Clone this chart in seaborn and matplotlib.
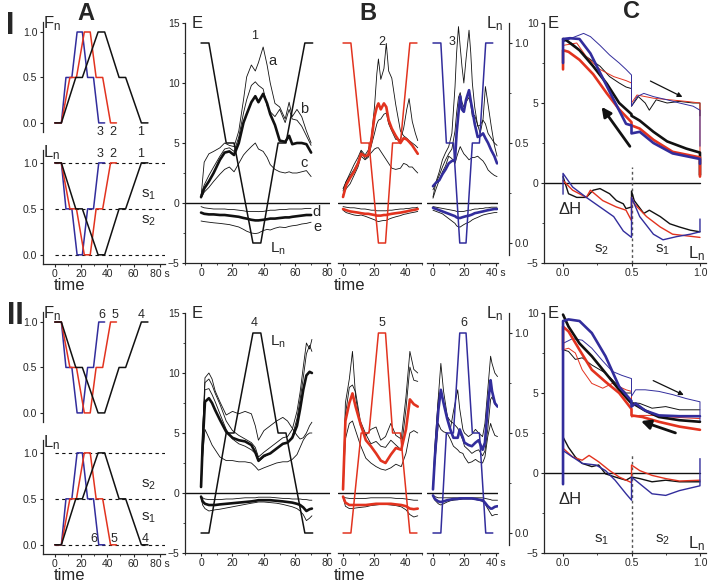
import matplotlib
matplotlib.use("Agg")
import matplotlib.pyplot as plt
from matplotlib.ticker import MultipleLocator, FixedLocator
import seaborn as sns

W, H = 708, 583
RED = "#e2331f"
BLUE = "#322d9c"
BLACK = "#111111"

# ---- stimulus profiles (knot times, s) ----
T_EXP1 = [0, 5, 16, 21, 33, 38, 49, 54, 66, 71]
T_EXP2 = [0, 5, 11.5, 16.5, 22.5, 27, 31.5, 36.5, 42.5, 47]
T_EXP3 = [0, 5, 8.5, 13, 17, 21, 25, 29.5, 33.5, 38]
LN_ROW_I = [1, 1, 0.5, 0.5, 0, 0, 0.5, 0.5, 1, 1]
LN_ROW_II = [0, 0, 0.5, 0.5, 1, 1, 0.5, 0.5, 0, 0]
FN_ROW_I = [0, 0, 0.5, 0.5, 1, 1, 0.5, 0.5, 0, 0]
FN_ROW_II = [1, 1, 0.5, 0.5, 0, 0, 0.5, 0.5, 1, 1]

# ---- E traces, experiment 1 ----
E1_T = [0, 2, 5, 8, 12, 15, 18, 21, 24, 27, 29, 32, 34.5, 36.5, 39.5, 42, 44, 47, 50, 53.5, 56, 58, 61, 64, 67, 70]
E1_A = [0.5, 3.4, 4.1, 4.3, 4.6, 5.0, 4.8, 4.7, 6.0, 8.6, 10.5, 11.5, 11.0, 11.7, 13.0, 11.5, 10.0, 8.3, 8.0, 7.0, 8.4, 7.2, 7.8, 7.2, 6.0, 5.0]
E1_B = [0.7, 1.5, 2.3, 3.0, 3.9, 4.5, 4.6, 4.3, 5.5, 7.5, 8.6, 9.8, 10.1, 9.8, 9.5, 8.1, 7.6, 7.2, 7.8, 6.7, 7.8, 7.0, 6.9, 6.4, 5.6, 4.8]
E1_M = [0.5, 1.2, 1.8, 2.5, 3.6, 4.2, 4.3, 4.0, 5.0, 6.7, 7.4, 8.4, 8.9, 8.4, 9.1, 8.3, 7.4, 6.5, 5.2, 5.1, 5.6, 4.9, 5.0, 5.0, 4.9, 4.2]
E1_C = [0.4, 0.9, 1.3, 1.8, 2.4, 2.8, 3.0, 2.6, 3.3, 4.0, 4.3, 4.7, 5.0, 4.5, 4.3, 3.8, 3.2, 2.8, 2.6, 2.5, 2.6, 2.5, 2.5, 2.6, 2.7, 2.2]
E1_D = [-0.3, -0.4, -0.45, -0.5, -0.5, -0.5, -0.55, -0.55, -0.6, -0.65, -0.7, -0.7, -0.7, -0.72, -0.7, -0.65, -0.6, -0.6, -0.55, -0.55, -0.5, -0.5, -0.5, -0.5, -0.45, -0.45]
E1_DM = [-0.8, -0.9, -0.95, -0.95, -1.0, -1.0, -1.05, -1.1, -1.15, -1.25, -1.3, -1.4, -1.45, -1.45, -1.4, -1.35, -1.3, -1.3, -1.25, -1.2, -1.2, -1.15, -1.1, -1.05, -1.0, -1.0]
E1_E = [-1.5, -1.55, -1.6, -1.65, -1.7, -1.75, -1.8, -1.9, -2.0, -2.2, -2.35, -2.5, -2.55, -2.5, -2.3, -2.2, -2.25, -2.1, -2.0, -2.05, -1.95, -1.9, -1.85, -1.75, -1.7, -1.6]

# ---- experiment 2 ----
E2_T = [0, 2, 4.5, 7, 9.5, 11.5, 14, 16, 18, 20, 21.5, 22.5, 24, 26, 27.5, 29, 31, 33.5, 36.5, 38.5, 40.5, 42, 44, 46, 47.5]
E2_A = [1.0, 1.8, 2.5, 3.2, 3.8, 4.4, 4.0, 4.4, 5.5, 8.0, 10.8, 12.0, 10.3, 11.2, 13.3, 11.0, 10.4, 8.2, 6.0, 5.6, 5.4, 5.2, 5.0, 4.8, 4.6]
E2_B = [0.7, 1.2, 1.6, 2.3, 3.0, 3.9, 3.6, 3.8, 4.8, 5.8, 6.6, 6.9, 7.0, 7.4, 7.5, 6.6, 6.0, 5.3, 5.3, 6.2, 7.8, 8.7, 6.8, 5.8, 5.2]
E2_M = [0.5, 1.5, 2.1, 2.6, 3.3, 4.1, 3.9, 4.0, 5.2, 7.2, 8.0, 8.3, 7.8, 8.3, 8.0, 6.9, 6.2, 5.6, 5.0, 5.4, 5.3, 5.1, 4.8, 4.4, 4.1]
E2_C = [1.2, 1.8, 2.3, 2.8, 3.4, 4.3, 3.7, 3.9, 4.2, 4.5, 4.6, 4.6, 4.3, 3.9, 3.6, 3.3, 2.9, 2.8, 2.9, 3.3, 3.2, 3.0, 3.0, 2.7, 2.5]
E2_D = [-0.3, -0.35, -0.4, -0.4, -0.45, -0.5, -0.5, -0.55, -0.6, -0.6, -0.65, -0.65, -0.65, -0.65, -0.65, -0.6, -0.6, -0.55, -0.5, -0.5, -0.45, -0.45, -0.4, -0.4, -0.35]
E2_DM = [-0.5, -0.6, -0.7, -0.75, -0.8, -0.85, -0.9, -0.9, -0.95, -1.0, -1.05, -1.05, -1.05, -1.0, -1.0, -0.95, -0.9, -0.85, -0.8, -0.75, -0.7, -0.65, -0.6, -0.55, -0.5]
E2_E = [-0.6, -0.8, -0.9, -1.0, -1.05, -1.0, -1.1, -1.2, -1.3, -1.4, -1.5, -1.55, -1.5, -1.45, -1.45, -1.35, -1.25, -1.15, -1.05, -0.95, -0.9, -0.85, -0.8, -0.75, -0.7]

# ---- experiment 3 ----
E3_T = [0, 2, 4, 6, 8, 10, 12, 14, 15, 16.2, 17.3, 18.4, 19.6, 21, 22.9, 24, 25, 26.5, 28.4, 30, 31.8, 33.3, 35, 37, 39, 40.7]
E3_A = [0.5, 1.8, 2.6, 3.6, 4.2, 4.7, 5.8, 9.7, 12.5, 14.7, 13.0, 11.4, 10.0, 12.0, 14.4, 12.5, 10.0, 8.0, 6.4, 6.5, 6.9, 6.6, 5.8, 5.4, 5.0, 4.8]
E3_B = [1.1, 1.7, 2.3, 3.0, 3.6, 4.1, 4.5, 6.0, 7.5, 8.8, 9.2, 8.4, 8.0, 8.4, 8.8, 8.2, 7.2, 7.3, 6.5, 5.8, 7.0, 9.7, 8.2, 6.4, 4.8, 3.9]
E3_M = [1.4, 1.7, 1.9, 2.4, 2.8, 3.3, 3.5, 3.6, 5.8, 7.5, 8.9, 7.8, 7.6, 8.6, 9.4, 8.5, 7.8, 6.6, 5.5, 5.6, 5.8, 5.4, 5.0, 4.4, 3.9, 3.3]
E3_C = [0.4, 1.2, 1.9, 2.6, 3.1, 3.9, 3.7, 3.3, 3.8, 4.3, 4.7, 4.4, 4.1, 3.9, 3.6, 3.7, 3.8, 3.8, 3.9, 3.7, 3.5, 3.2, 2.75, 2.5, 2.3, 2.2]
E3_D = [-0.3, -0.35, -0.4, -0.45, -0.5, -0.55, -0.6, -0.65, -0.7, -0.7, -0.7, -0.7, -0.7, -0.65, -0.6, -0.6, -0.55, -0.5, -0.5, -0.45, -0.45, -0.4, -0.4, -0.35, -0.35, -0.35]
E3_DM = [-0.4, -0.5, -0.6, -0.7, -0.8, -0.9, -1.0, -1.1, -1.2, -1.25, -1.25, -1.2, -1.15, -1.1, -1.05, -1.0, -0.95, -0.85, -0.8, -0.75, -0.7, -0.65, -0.6, -0.55, -0.5, -0.5]
E3_E = [-0.6, -0.7, -0.8, -0.9, -1.1, -1.3, -1.5, -1.7, -1.9, -2.0, -2.0, -1.9, -1.8, -1.7, -1.6, -1.5, -1.4, -1.3, -1.2, -1.1, -1.0, -0.95, -0.9, -0.85, -0.8, -0.8]

# ---- experiment 4 ----
E4_T = [0, 1, 2.5, 5, 7, 9, 12, 16, 20, 24, 28, 32, 34.5, 36.5, 40, 44, 48, 52, 55, 58, 61, 63, 65, 67, 69, 70.5]
E4_A = [0.5, 5.0, 9.2, 9.5, 9.0, 8.3, 7.4, 6.0, 5.2, 4.8, 4.5, 4.2, 3.8, 3.0, 3.4, 3.8, 4.2, 4.6, 4.7, 5.3, 6.8, 8.4, 10.5, 12.5, 12.0, 12.8]
E4_B = [0.5, 4.5, 8.6, 8.7, 8.2, 7.6, 6.6, 5.3, 4.5, 4.1, 3.9, 3.6, 3.3, 2.6, 3.0, 3.3, 3.7, 4.1, 4.2, 4.7, 6.2, 7.8, 9.6, 11.6, 12.3, 11.8]
E4_M = [0.5, 4.0, 7.6, 7.9, 7.5, 6.9, 6.1, 5.1, 4.6, 4.4, 4.3, 4.0, 3.4, 2.7, 3.1, 3.3, 3.7, 4.1, 4.2, 4.6, 5.6, 7.0, 8.6, 9.8, 10.1, 10.0]
E4_C = [0.5, 5.0, 9.6, 10.0, 9.5, 8.5, 7.6, 6.5, 6.8, 6.6, 6.8, 6.6, 5.6, 4.4, 5.2, 5.6, 6.0, 6.3, 6.0, 5.4, 4.8, 4.5, 4.6, 5.0, 5.6, 5.9]
E4_L = [0.5, 3.0, 5.3, 4.6, 4.0, 3.6, 3.0, 2.7, 2.7, 2.6, 2.6, 2.5, 2.2, 1.9, 2.1, 2.3, 2.5, 2.6, 2.6, 2.8, 3.2, 3.8, 4.4, 4.8, 5.0, 5.0]
E4_D = [-0.3, -0.4, -0.5, -0.55, -0.55, -0.55, -0.55, -0.5, -0.5, -0.45, -0.4, -0.4, -0.4, -0.35, -0.35, -0.35, -0.4, -0.45, -0.45, -0.5, -0.5, -0.5, -0.55, -0.55, -0.6, -0.6]
E4_DM = [-0.3, -0.7, -0.9, -1.0, -1.0, -1.0, -0.95, -0.9, -0.85, -0.8, -0.75, -0.7, -0.65, -0.6, -0.6, -0.6, -0.65, -0.7, -0.75, -0.8, -0.9, -1.0, -1.2, -1.5, -1.35, -1.3]
E4_E = [-0.3, -1.0, -1.3, -1.5, -1.45, -1.4, -1.35, -1.25, -1.15, -1.05, -0.95, -0.85, -0.8, -0.75, -0.75, -0.8, -0.85, -0.95, -1.05, -1.15, -1.3, -1.5, -1.8, -2.3, -2.1, -1.9]

# ---- experiment 5 ----
E5_T = [0, 1.5, 4, 6, 8, 11, 14.5, 17.7, 21, 24, 27, 30.4, 33.6, 37, 40, 42.5, 45, 47.5]
E5_A = [0.3, 7.5, 9.5, 11.8, 8.0, 5.6, 4.8, 5.3, 5.5, 4.4, 4.7, 5.8, 4.8, 4.5, 8.0, 11.8, 10.3, 10.0]
E5_B = [0.3, 6.5, 8.8, 9.0, 8.4, 6.0, 4.9, 4.1, 4.3, 3.9, 3.8, 4.4, 4.0, 3.6, 7.0, 10.5, 9.4, 9.3]
E5_M = [0.3, 6.0, 7.5, 8.3, 7.2, 5.8, 4.4, 3.9, 3.3, 2.7, 2.5, 3.2, 3.75, 3.6, 5.3, 7.8, 7.4, 7.2]
E5_C = [0.3, 4.5, 5.8, 6.0, 5.2, 4.0, 2.9, 2.5, 2.2, 2.0, 1.9, 2.1, 2.4, 2.2, 3.3, 5.0, 5.2, 5.0]
E5_D = [-0.3, -0.4, -0.45, -0.45, -0.45, -0.45, -0.45, -0.4, -0.4, -0.4, -0.4, -0.4, -0.45, -0.45, -0.5, -0.55, -0.6, -0.6]
E5_DM = [-0.3, -0.8, -1.0, -1.0, -1.0, -1.0, -1.0, -0.95, -0.9, -0.9, -0.9, -0.9, -0.95, -1.0, -1.1, -1.3, -1.35, -1.3]
E5_E = [-0.3, -1.1, -1.3, -1.3, -1.25, -1.2, -1.15, -1.05, -1.0, -0.95, -0.95, -1.0, -1.05, -1.15, -1.4, -1.8, -2.0, -1.9]

# ---- experiment 6 ----
E6_T = [0, 1.2, 3.4, 5, 6.7, 9, 11, 13, 15.7, 17, 19, 20, 22.5, 24.7, 27, 29, 31.5, 33, 34.8, 36.6, 37.5, 39.3, 41]
E6_A = [0.3, 4.0, 8.0, 10.8, 8.5, 6.5, 5.3, 6.8, 8.6, 7.0, 5.3, 5.0, 4.7, 4.9, 5.3, 5.0, 4.7, 5.8, 8.6, 11.4, 10.8, 10.0, 9.7]
E6_B = [0.3, 3.5, 7.8, 8.6, 7.6, 6.4, 6.0, 5.8, 5.4, 5.0, 4.4, 3.9, 3.6, 3.3, 3.5, 3.6, 3.1, 3.5, 5.3, 7.8, 8.0, 7.4, 7.2]
E6_M = [0.3, 3.0, 6.9, 8.6, 7.5, 6.2, 5.3, 4.6, 4.6, 5.3, 4.6, 4.2, 4.0, 3.9, 4.2, 4.4, 3.6, 4.2, 7.2, 9.4, 8.5, 7.5, 7.2]
E6_C = [0.3, 2.5, 5.8, 5.3, 5.1, 5.0, 4.5, 3.9, 3.6, 3.4, 3.3, 3.0, 2.5, 2.6, 2.8, 2.6, 2.5, 3.0, 4.7, 5.8, 5.4, 4.8, 4.7]
E6_D = [-0.2, -0.3, -0.4, -0.4, -0.4, -0.4, -0.4, -0.4, -0.4, -0.4, -0.4, -0.4, -0.4, -0.4, -0.4, -0.4, -0.4, -0.45, -0.5, -0.55, -0.6, -0.6, -0.6]
E6_DM = [-0.2, -0.5, -0.7, -0.75, -0.7, -0.6, -0.55, -0.5, -0.5, -0.45, -0.45, -0.45, -0.45, -0.45, -0.5, -0.55, -0.6, -0.8, -1.1, -1.3, -1.3, -1.15, -1.1]
E6_E = [-0.2, -0.6, -0.9, -1.0, -0.9, -0.75, -0.65, -0.6, -0.55, -0.55, -0.5, -0.5, -0.5, -0.5, -0.55, -0.6, -0.7, -0.9, -1.3, -1.7, -1.9, -1.8, -1.8]

# ---- panel C, row I: E against L_n ----
CI_BLACK_DN_L = [1.0, 1.0, 0.9, 0.76, 0.66, 0.56, 0.5, 0.5, 0.41, 0.32, 0.22, 0.12, 0.02, 0.0]
CI_BLACK_DN_E = [0.5, 1.9, 2.15, 2.6, 3.2, 3.9, 4.2, 4.3, 5.0, 6.2, 7.3, 8.3, 8.95, 9.0]
CI_RED_DN_L = [1.0, 1.0, 0.8, 0.66, 0.56, 0.5, 0.5, 0.41, 0.32, 0.22, 0.12, 0.04, 0.0, 0.0]
CI_RED_DN_E = [0.4, 1.6, 1.95, 2.7, 3.4, 3.6, 3.8, 4.6, 5.6, 6.8, 7.7, 8.2, 8.3, 7.1]
CI_BLUE_DN_L = [1.0, 1.0, 0.8, 0.66, 0.56, 0.5, 0.5, 0.46, 0.37, 0.27, 0.2, 0.12, 0.05, 0.0, 0.0]
CI_BLUE_DN_E = [1.2, 1.5, 1.85, 2.5, 3.2, 3.1, 3.6, 3.7, 5.2, 6.9, 8.1, 9.0, 9.05, 9.0, 7.5]
CI_BLACK_UP_L = [0.0, 0.07, 0.17, 0.27, 0.34, 0.41, 0.46, 0.5, 0.5, 0.55, 0.6, 0.63, 0.68, 0.76, 0.85, 0.95, 1.0, 1.0]
CI_BLACK_UP_E = [9.0, 8.7, 7.9, 7.3, 6.65, 6.25, 6.0, 5.9, 4.8, 5.4, 5.0, 4.55, 5.2, 5.0, 5.1, 5.0, 5.0, 4.2]
CI_RED_UP_L = [0.0, 0.1, 0.17, 0.27, 0.37, 0.46, 0.5, 0.5, 0.54, 0.66, 0.78, 0.9, 1.0, 1.0]
CI_RED_UP_E = [8.6, 8.75, 7.9, 7.1, 6.65, 6.4, 6.25, 5.0, 5.5, 5.3, 5.2, 5.1, 5.0, 0.4]
CI_BLUE_UP_L = [0.0, 0.06, 0.15, 0.2, 0.27, 0.34, 0.41, 0.46, 0.5, 0.5, 0.54, 0.59, 0.66, 0.76, 0.85, 0.95, 1.0, 1.0]
CI_BLUE_UP_E = [8.8, 9.05, 9.35, 9.15, 8.6, 8.0, 7.5, 7.1, 6.75, 4.8, 5.4, 5.6, 5.4, 5.2, 5.0, 4.8, 4.55, 2.3]
CI_DH_BLACK_L = [0.0, 0.04, 0.1, 0.17, 0.22, 0.27, 0.34, 0.39, 0.44, 0.46, 0.5, 0.5, 0.52, 0.59, 0.63, 0.71, 0.78, 0.85, 0.93, 1.0]
CI_DH_BLACK_E = [0.4, -0.67, -0.9, -0.9, -0.45, -0.35, -0.67, -1.1, -1.3, -1.6, -1.5, -0.5, -1.1, -1.9, -1.7, -2.1, -2.55, -2.75, -2.95, -3.05]
CI_DH_RED_L = [0.0, 0.07, 0.17, 0.2, 0.29, 0.39, 0.46, 0.5, 0.5, 0.52, 0.61, 0.71, 0.8, 0.9, 1.0]
CI_DH_RED_E = [0.15, -0.45, -0.9, -0.45, -1.1, -1.5, -1.7, -2.35, -0.9, -1.3, -2.1, -2.75, -3.2, -3.3, -3.4]
CI_DH_BLUE_L = [0.0, 0.0, 0.07, 0.17, 0.27, 0.37, 0.44, 0.5, 0.5, 0.56, 0.66, 0.73, 0.83, 0.93, 1.0, 1.0]
CI_DH_BLUE_E = [-0.7, 0.6, -0.25, -0.9, -1.5, -2.1, -3.0, -3.4, -0.9, -2.1, -3.2, -3.55, -3.35, -3.2, -3.05, -2.25]

# ---- panel C, row II ----
CII_BLACK_DN_L = [1.0, 0.85, 0.7, 0.6, 0.53, 0.5, 0.41, 0.31, 0.21, 0.12, 0.04, 0.0]
CII_BLACK_DN_E = [3.2, 3.3, 3.5, 3.9, 4.25, 4.35, 5.2, 6.25, 7.3, 8.1, 9.15, 9.9]
CII_RED_DN_L = [1.0, 0.85, 0.7, 0.58, 0.5, 0.5, 0.41, 0.31, 0.21, 0.12, 0.04, 0.0, 0.0]
CII_RED_DN_E = [2.7, 2.9, 3.2, 3.5, 3.6, 4.0, 5.0, 5.7, 6.45, 7.7, 8.85, 9.15, 7.7]
CII_BLUE_DN_L = [1.0, 0.85, 0.7, 0.6, 0.53, 0.5, 0.5, 0.41, 0.31, 0.21, 0.12, 0.04, 0.0, 0.0]
CII_BLUE_DN_E = [3.55, 3.55, 3.6, 3.9, 4.35, 4.15, 4.5, 5.4, 7.3, 8.75, 9.5, 9.6, 9.5, -0.7]
CII_BLACK_UP_L = [0.0, 0.04, 0.09, 0.14, 0.21, 0.31, 0.41, 0.46, 0.5, 0.5, 0.56, 0.65, 0.75, 0.85, 1.0]
CII_BLACK_UP_E = [7.7, 7.6, 7.1, 7.2, 6.75, 6.25, 5.4, 5.0, 5.0, 4.4, 4.35, 4.05, 4.15, 3.95, 3.95]
CII_RED_UP_L = [0.0, 0.04, 0.09, 0.14, 0.21, 0.29, 0.36, 0.46, 0.5, 0.5, 0.56, 0.65, 0.78, 1.0]
CII_RED_UP_E = [7.7, 7.8, 7.5, 6.45, 5.6, 5.3, 5.6, 5.2, 5.1, 3.5, 3.6, 3.6, 3.5, 3.4]
CII_BLUE_UP_L = [0.0, 0.07, 0.14, 0.21, 0.29, 0.36, 0.43, 0.5, 0.5, 0.53, 0.6, 0.7, 0.8, 0.9, 1.0, 1.0]
CII_BLUE_UP_E = [8.1, 8.4, 8.3, 7.8, 7.0, 6.35, 6.1, 5.9, 4.8, 5.2, 5.2, 5.1, 4.9, 4.65, 4.45, 3.2]
CII_DH_BLACK_L = [0.0, 0.04, 0.09, 0.14, 0.21, 0.26, 0.31, 0.38, 0.46, 0.5, 0.56, 0.65, 0.75, 0.85, 1.0]
CII_DH_BLACK_E = [2.25, 1.6, 1.0, 0.6, 0.4, 0.5, -0.05, -0.25, -0.45, -0.25, -0.35, -0.55, -0.45, -0.55, -0.55]
CII_DH_RED_L = [0.0, 0.07, 0.14, 0.19, 0.26, 0.34, 0.41, 0.5, 0.5, 0.56, 0.65, 0.75, 0.85, 1.0]
CII_DH_RED_E = [1.55, 1.0, 0.8, 1.1, 0.7, 0.15, -0.25, -0.6, 0.5, 0.15, -0.15, -0.35, -0.5, -0.45]
CII_DH_BLUE_L = [0.0, 0.07, 0.14, 0.24, 0.31, 0.38, 0.46, 0.5, 0.5, 0.56, 0.65, 0.75, 0.85, 1.0, 1.0]
CII_DH_BLUE_E = [1.4, 1.0, 0.6, 0.5, 0.15, -0.45, -1.3, -1.7, -0.25, -0.67, -1.3, -1.4, -1.1, -0.8, 0.9]

sns.set_style("ticks")
plt.rcParams["font.family"] = ["Liberation Sans", "DejaVu Sans"]
plt.rcParams["mathtext.default"] = "regular"
plt.rcParams["xtick.labelsize"] = 7.5
plt.rcParams["ytick.labelsize"] = 7.5
plt.rcParams["axes.linewidth"] = 0.9
plt.rcParams["xtick.major.size"] = 2.5
plt.rcParams["ytick.major.size"] = 2.5
plt.rcParams["xtick.minor.size"] = 1.5
plt.rcParams["ytick.minor.size"] = 1.5
plt.rcParams["xtick.major.pad"] = 1.0
plt.rcParams["ytick.major.pad"] = 1.5

fig = plt.figure(figsize=(W / 100, H / 100), dpi=100)


def add_ax(left, top, right, bottom):
    return fig.add_axes([left / W, 1 - bottom / H, (right - left) / W, (bottom - top) / H])


def ftext(x, y, s, **kw):
    fig.text(x / W, 1 - y / H, s, ha="center", va="center", **kw)


def line(ax, x, y, color=BLACK, lw=0.7, ls="-"):
    sns.lineplot(x=x, y=y, ax=ax, color=color, linewidth=lw, linestyle=ls,
                 sort=False, estimator=None, legend=False)


def clean(ax, left=True, bottom=True):
    sns.despine(ax=ax, left=not left, bottom=not bottom)
    if not left:
        ax.set_yticks([])
    if not bottom:
        ax.set_xticks([])
    ax.set_xlabel("")
    ax.set_ylabel("")
    ax.patch.set_alpha(0)


rows = [
    dict(off=0, ln=LN_ROW_I, fn=FN_ROW_I, ids=("1", "2", "3"),
         e_main=(E1_T, E1_A, E1_B, E1_M, E1_C, None, E1_D, E1_DM, E1_E),
         e_b1=(E2_T, E2_A, E2_B, E2_M, E2_C, E2_D, E2_DM, E2_E),
         e_b2=(E3_T, E3_A, E3_B, E3_M, E3_C, E3_D, E3_DM, E3_E)),
    dict(off=290, ln=LN_ROW_II, fn=FN_ROW_II, ids=("4", "5", "6"),
         e_main=(E4_T, E4_A, E4_B, E4_M, E4_C, E4_L, E4_D, E4_DM, E4_E),
         e_b1=(E5_T, E5_A, E5_B, E5_M, E5_C, E5_D, E5_DM, E5_E),
         e_b2=(E6_T, E6_A, E6_B, E6_M, E6_C, E6_D, E6_DM, E6_E)),
]
profiles = [(T_EXP1, BLACK), (T_EXP2, RED), (T_EXP3, BLUE)]

for r, row in enumerate(rows):
    off = row["off"]

    # ---------- A: force and length programmes ----------
    axf = add_ax(43, 22 + off, 165, 132 + off)
    axl = add_ax(43, 150 + off, 165, 264 + off)
    axl.hlines([0, 0.5, 1.0], 0, 84, colors=BLACK, linestyles=(0, (3, 3)), lw=0.8)
    for t, c in profiles[::-1]:
        line(axf, t, row["fn"], c, 1.1)
        line(axl, t, row["ln"], c, 1.1)
    axf.set_ylim(-0.1, 1.11)
    axl.set_ylim(-0.1, 1.14)
    for ax in (axf, axl):
        ax.set_xlim(-9, 84)
        ax.set_yticks([0, 0.5, 1.0])
        ax.set_yticklabels(["0.0", "0.5", "1.0"])
    clean(axf, bottom=False)
    clean(axl)
    axl.set_xticks([0, 20, 40, 60, 80])
    axl.set_xticklabels(["0", "20", "40", "60", "80 s"])
    axl.xaxis.set_minor_locator(FixedLocator([-10, 10, 30, 50, 70]))
    ftext(52, 24 + off, "F$_n$", fontsize=12)
    ftext(52, 153 + off, "L$_n$", fontsize=12)
    ftext(70, 285 + off, "time", fontsize=12)
    if r == 0:
        for s, x in zip(("3", "2", "1"), (34.5, 44.5, 65)):
            axf.text(x, -0.1, s, fontsize=9, ha="center", va="center")
            axl.text(x, 1.1, s, fontsize=9, ha="center", va="center")
        axl.text(66, 0.65, "s$_1$", fontsize=11, ha="left", va="center")
        axl.text(66, 0.37, "s$_2$", fontsize=11, ha="left", va="center")
    else:
        for s, x in zip(("6", "5", "4"), (35.5, 45.5, 66)):
            axf.text(x, 1.08, s, fontsize=9, ha="center", va="center")
        for s, x in zip(("6", "5", "4"), (30, 45, 69)):
            axl.text(x, 0.06, s, fontsize=9, ha="center", va="center")
        axl.text(66, 0.65, "s$_2$", fontsize=11, ha="left", va="center")
        axl.text(66, 0.29, "s$_1$", fontsize=11, ha="left", va="center")

    # ---------- E: slow experiment ----------
    axe = add_ax(185, 23 + off, 330, 263 + off)
    tw = axe.twinx()
    line(tw, T_EXP1, row["ln"], BLACK, 1.1)
    tw.set_ylim(-0.1, 1.1)
    tw.axis("off")
    t, a, b, m, c, low, d, dm, e = row["e_main"]
    for y in (a, b, c, d, e):
        line(axe, t, y, BLACK, 0.6)
    if low is not None:
        line(axe, t, low, BLACK, 0.6)
    line(axe, t, m, BLACK, 1.9)
    line(axe, t, dm, BLACK, 1.9)
    axe.axhline(0, color=BLACK, lw=1.0)
    axe.set_xlim(-10.2, 82)
    axe.set_ylim(-5, 15)
    clean(axe)
    axe.set_xticks([0, 20, 40, 60, 80])
    axe.xaxis.set_minor_locator(MultipleLocator(10))
    axe.set_yticks([-5, 0, 5, 10, 15])
    axe.yaxis.set_minor_locator(MultipleLocator(2.5))
    ftext(197, 24 + off, "E", fontsize=12)
    if r == 0:
        axe.text(34, 13.9, "1", fontsize=9, ha="center", va="center")
        for s, x, y in (("a", 45.5, 11.8), ("b", 65.5, 7.8), ("c", 65.5, 3.3),
                        ("d", 73.5, -0.75), ("e", 74, -2.0)):
            axe.text(x, y, s, fontsize=10.5, ha="center", va="center")
        axe.text(44, -3.8, "L$_n$", fontsize=11, ha="left", va="center")
    else:
        axe.text(34, 14.2, "4", fontsize=9, ha="center", va="center")
        axe.text(44, 12.6, "L$_n$", fontsize=11, ha="left", va="center")

    # ---------- B: faster experiments ----------
    for k, (key, (tk, col), box, xl, lab_t) in enumerate((
            ("e_b1", profiles[1], (338, 422), (-3.2, 50.2), 24.8),
            ("e_b2", profiles[2], (427, 498), (-3.8, 41.3), 12 if r == 0 else 19.7))):
        axb = add_ax(box[0], 23 + off, box[1], 263 + off)
        twb = axb.twinx()
        line(twb, tk, row["ln"], col, 1.1)
        twb.set_ylim(-0.1, 1.1)
        t, a, b, m, c, d, dm, e = row[key]
        for y in (a, b, c, d, e):
            line(axb, t, y, BLACK, 0.6)
        line(axb, t, m, col, 1.9)
        line(axb, t, dm, col, 1.9)
        axb.axhline(0, color=BLACK, lw=1.0)
        axb.set_xlim(*xl)
        axb.set_ylim(-5, 15)
        clean(axb, left=False)
        axb.set_xticks([0, 20, 40])
        axb.set_xticklabels(["0", "20", "40 s" if k == 1 else "40"])
        axb.xaxis.set_minor_locator(MultipleLocator(10))
        axb.text(lab_t, 13.4 if r == 0 else 14.2, row["ids"][k + 1],
                 fontsize=9, ha="center", va="center")
        if k == 1:
            for sp in ("top", "left", "bottom"):
                twb.spines[sp].set_visible(False)
            twb.spines["right"].set_position(("outward", 8))
            twb.spines["right"].set_bounds(-0.06, 1.1)
            twb.set_yticks([0, 0.5, 1.0])
            twb.set_yticklabels(["0.0", "0.5", "1.0"])
            twb.yaxis.set_minor_locator(FixedLocator([0.25, 0.75]))
            twb.set_ylabel("")
        else:
            twb.axis("off")
    ftext(495, 24 + off, "L$_n$", fontsize=12)
    ftext(350, 286 + off, "time", fontsize=12)

# ---------- C: E and delta H against L_n ----------
c_rows = [
    (0, [(CI_BLACK_DN_L, CI_BLACK_DN_E, BLACK), (CI_RED_DN_L, CI_RED_DN_E, RED), (CI_BLUE_DN_L, CI_BLUE_DN_E, BLUE)],
     [(CI_BLACK_UP_L, CI_BLACK_UP_E, BLACK), (CI_RED_UP_L, CI_RED_UP_E, RED), (CI_BLUE_UP_L, CI_BLUE_UP_E, BLUE)],
     [(CI_DH_BLACK_L, CI_DH_BLACK_E, BLACK), (CI_DH_RED_L, CI_DH_RED_E, RED), (CI_DH_BLUE_L, CI_DH_BLUE_E, BLUE)],
     ((0.5, 2.15), (0.27, 4.9)), ((0.62, 6.45), (0.89, 5.3)), ("s$_2$", "s$_1$"), 1.0),
    (290, [(CII_BLACK_DN_L, CII_BLACK_DN_E, BLACK), (CII_RED_DN_L, CII_RED_DN_E, RED), (CII_BLUE_DN_L, CII_BLUE_DN_E, BLUE)],
     [(CII_BLACK_UP_L, CII_BLACK_UP_E, BLACK), (CII_RED_UP_L, CII_RED_UP_E, RED), (CII_BLUE_UP_L, CII_BLUE_UP_E, BLUE)],
     [(CII_DH_BLACK_L, CII_DH_BLACK_E, BLACK), (CII_DH_RED_L, CII_DH_RED_E, RED), (CII_DH_BLUE_L, CII_DH_BLUE_E, BLUE)],
     ((0.84, 2.45), (0.55, 3.3)), ((0.64, 5.85), (0.9, 4.8)), ("s$_1$", "s$_2$"), 1.2),
]
for off, down, up, dh, arr_thick, arr_thin, s_lab, dash_top in c_rows:
    axc = add_ax(544, 23 + off, 706, 263 + off)
    axc.axhline(0, xmin=0, xmax=(1.0 + 0.139) / 1.183, color=BLACK, lw=1.0)
    axc.vlines(0.5, -5, dash_top, colors="#555555", linestyles=(0, (2, 2)), lw=1.0)
    for L, E, col in up:
        line(axc, L, E, col, 0.7)
    for L, E, col in dh:
        line(axc, L, E, col, 1.0)
    for L, E, col in down:
        line(axc, L, E, col, 1.9)
    axc.annotate("", xy=arr_thick[1], xytext=arr_thick[0],
                 arrowprops=dict(arrowstyle="-|>", lw=2.0, color=BLACK, mutation_scale=14))
    axc.annotate("", xy=arr_thin[1], xytext=arr_thin[0],
                 arrowprops=dict(arrowstyle="-|>", lw=0.9, color=BLACK, mutation_scale=7))
    axc.set_xlim(-0.139, 1.044)
    axc.set_ylim(-5, 10)
    clean(axc)
    axc.set_xticks([0, 0.5, 1.0])
    axc.set_xticklabels(["0.0", "0.5", "1.0"])
    axc.xaxis.set_minor_locator(MultipleLocator(0.25))
    axc.set_yticks([-5, 0, 5, 10])
    axc.yaxis.set_minor_locator(MultipleLocator(2.5))
    axc.text(-0.03, -1.65, "\u0394H", fontsize=12, ha="left", va="center")
    axc.text(0.28, -4.15, s_lab[0], fontsize=11, ha="center", va="center")
    axc.text(0.73, -4.15, s_lab[1], fontsize=11, ha="center", va="center")
    axc.text(0.975, -4.4, "L$_n$", fontsize=12, ha="center", va="center")
    ftext(553, 24 + off, "E", fontsize=12)

# panel letters
ftext(10, 26, "I", fontsize=22, fontweight="bold")
ftext(15, 316, "II", fontsize=22, fontweight="bold")
ftext(86, 13, "A", fontsize=17, fontweight="bold")
ftext(368, 13, "B", fontsize=17, fontweight="bold")
ftext(632, 12, "C", fontsize=17, fontweight="bold")

fig.savefig("out.png", dpi=100)
